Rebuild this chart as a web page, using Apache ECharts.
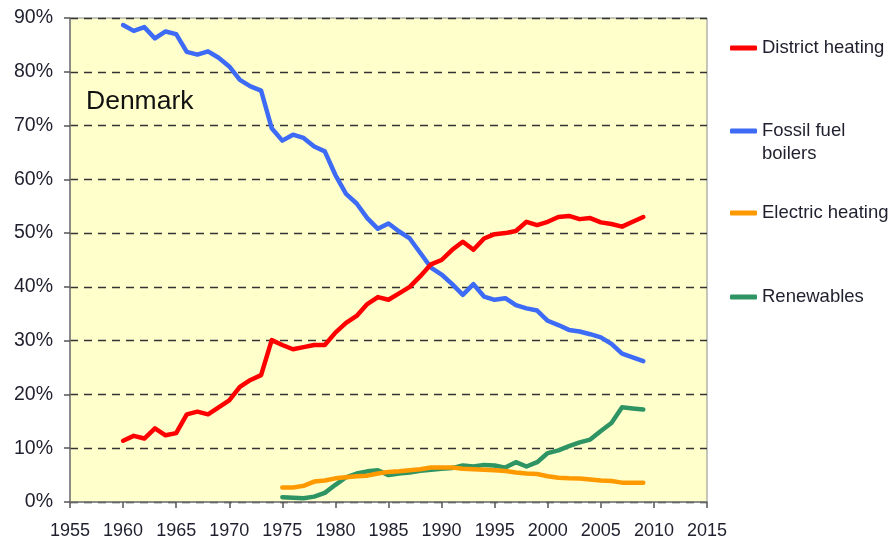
<!DOCTYPE html>
<html>
<head>
<meta charset="utf-8">
<script src="https://cdn.jsdelivr.net/npm/echarts@6/dist/echarts.min.js"></script>
<style>
  html, body { margin: 0; padding: 0; background: #fff; }
  #chart { width: 894px; height: 540px; }
</style>
</head>
<body>
<div id="chart"></div>
<script>
// Years for district heating / fossil fuel series
const years = [];
for (let y = 1960; y <= 2009; y++) years.push(y);
// Electric heating and renewables start in 1975
const laterYears = years.filter(y => y >= 1975);

// Shares in percent
const districtHeating = [
    11.4, 12.3, 11.8, 13.7, 12.4, 12.8, 16.3, 16.8, 16.3, 17.6,
    18.9, 21.4, 22.7, 23.6, 30.1, 29.2, 28.4, 28.8, 29.2, 29.2,
    31.5, 33.3, 34.6, 36.8, 38.1, 37.6, 38.8, 40.0, 42.0, 44.2,
    45.0, 46.9, 48.4, 46.9, 49.0, 49.8, 50.0, 50.4, 52.1, 51.5,
    52.1, 53.0, 53.2, 52.6, 52.8, 52.0, 51.7, 51.2, 52.1, 53.0
];
const fossilFuel = [
    88.7, 87.6, 88.3, 86.2, 87.5, 87.0, 83.7, 83.2, 83.8, 82.6,
    81.0, 78.5, 77.3, 76.5, 69.5, 67.2, 68.3, 67.7, 66.1, 65.2,
    60.8, 57.3, 55.5, 52.8, 50.8, 51.8, 50.3, 49.0, 46.3, 43.6,
    42.3, 40.5, 38.5, 40.5, 38.2, 37.6, 37.9, 36.6, 36.0, 35.6,
    33.7, 32.9, 32.0, 31.7, 31.2, 30.6, 29.4, 27.6, 26.9, 26.2
];
const electricHeating = [
    2.7, 2.7, 3.0, 3.8, 4.0, 4.4, 4.6, 4.8, 4.9, 5.3,
    5.6, 5.7, 5.9, 6.1, 6.4, 6.4, 6.4, 6.2, 6.1, 6.0,
    5.9, 5.75, 5.5, 5.3, 5.2, 4.8, 4.5, 4.4, 4.35, 4.2,
    4.0, 3.9, 3.6, 3.6, 3.6
];
const renewables = [
    0.9, 0.8, 0.7, 1.0, 1.7, 3.2, 4.6, 5.3, 5.7, 5.9,
    5.0, 5.3, 5.5, 5.8, 6.0, 6.2, 6.3, 6.8, 6.6, 6.9,
    6.8, 6.4, 7.4, 6.6, 7.4, 9.1, 9.6, 10.4, 11.1, 11.6,
    13.2, 14.7, 17.6, 17.4, 17.2
];

const xTicks = { min: 1955, max: 2015, step: 5 };
const yTicks = { min: 0, max: 90, step: 10 };

const seriesNames = ['District heating', 'Fossil fuel boilers', 'Electric heating', 'Renewables'];
const seriesColors = ['#ff0000', '#3d6bf5', '#ff9900', '#2e9463'];

const font = '"Liberation Sans", Arial, sans-serif';
const textColor = '#1f1f2e';

function pairs(xs, vs) {
    return xs.map((x, i) => [x, vs[i]]);
}

const chart = echarts.init(document.getElementById('chart'));

const seriesData = [
    pairs(years, districtHeating),
    pairs(years, fossilFuel),
    pairs(laterYears, electricHeating),
    pairs(laterYears, renewables)
];

// One legend block per entry so the spacing matches the original
const legendTops = [37, 120, 202, 286];
const legends = seriesNames.map((name, i) => ({
    data: [name],
    orient: 'vertical',
    left: 730,
    top: legendTops[i],
    padding: 0,
    itemWidth: 27,
    itemHeight: 5,
    itemGap: 0,
    icon: 'roundRect',
    selectedMode: false,
    formatter: n => n === 'Fossil fuel boilers' ? 'Fossil fuel' : n,
    textStyle: {
        fontFamily: font,
        fontSize: 18.5,
        color: textColor,
        lineHeight: 22
    }
}));

chart.setOption({
    animation: false,
    textStyle: { fontFamily: font },
    title: {
        text: 'Denmark',
        left: 81,
        top: 83,
        textStyle: { fontFamily: font, fontSize: 26.5, fontWeight: 'normal', color: '#111' }
    },
    legend: legends,
    // second line of the "Fossil fuel boilers" legend entry
    graphic: [{
        type: 'text',
        left: 762,
        top: 144,
        style: { text: 'boilers', font: '18.5px ' + font, fill: textColor }
    }],
    grid: {
        left: 70,
        right: 187,
        top: 18,
        bottom: 38,
        show: true,
        backgroundColor: '#ffffcc',
        borderColor: '#8c8c8c',
        borderWidth: 1
    },
    xAxis: {
        type: 'value',
        min: xTicks.min,
        max: xTicks.max,
        interval: xTicks.step,
        axisLine: { lineStyle: { color: '#7a7a7a', width: 1.5 } },
        axisTick: { show: true, inside: false, length: 6, lineStyle: { color: '#555', width: 1.5 } },
        splitLine: { show: false },
        axisLabel: {
            fontFamily: font,
            fontSize: 18,
            color: textColor,
            margin: 20,
            formatter: v => String(v)
        }
    },
    yAxis: {
        type: 'value',
        min: yTicks.min,
        max: yTicks.max,
        interval: yTicks.step,
        axisLine: { show: true, lineStyle: { color: '#7a7a7a', width: 1.5 } },
        axisTick: { show: true, inside: false, length: 6, lineStyle: { color: '#555', width: 1.5 } },
        splitLine: {
            show: true,
            lineStyle: { color: '#333', type: [8, 6], width: 1.3 }
        },
        axisLabel: {
            fontFamily: font,
            fontSize: 19.5,
            color: textColor,
            margin: 17,
            formatter: '{value}%'
        }
    },
    series: seriesNames.map((name, i) => ({
        name: name,
        type: 'line',
        data: seriesData[i],
        showSymbol: false,
        symbol: 'none',
        color: seriesColors[i],
        lineStyle: { width: 4.5, color: seriesColors[i], cap: 'round', join: 'round' },
        z: 10 - i
    }))
});
</script>
</body>
</html>
